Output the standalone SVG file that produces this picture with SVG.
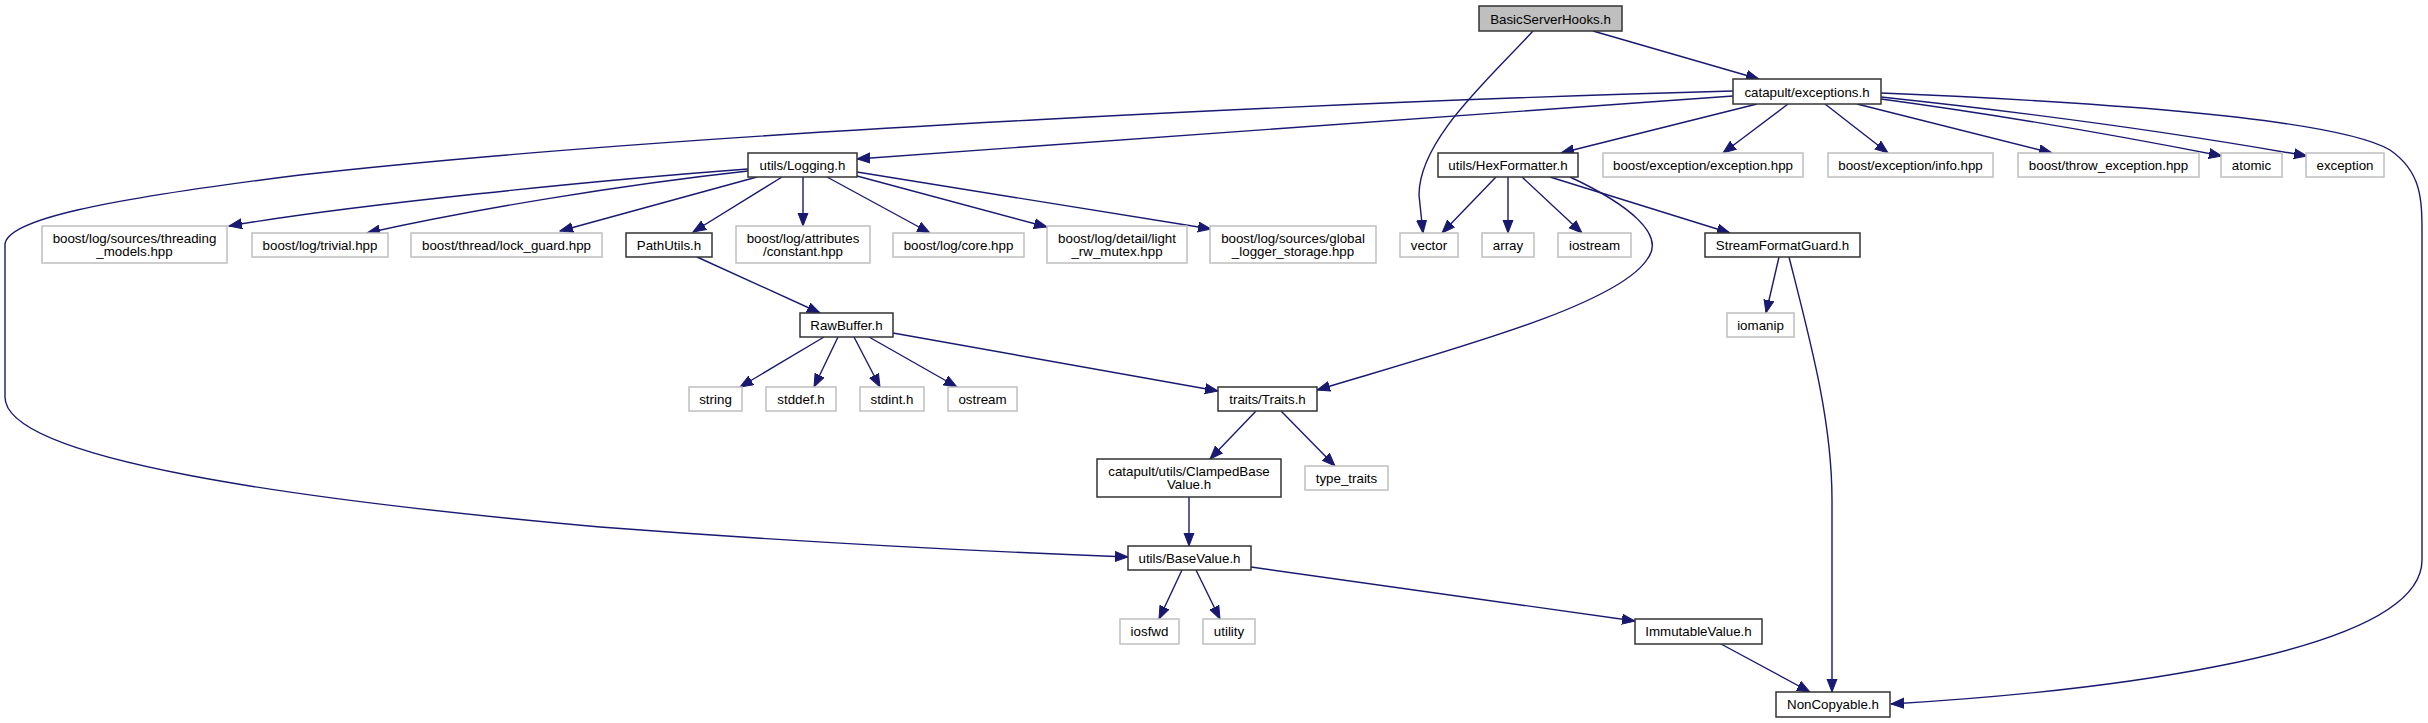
<svg xmlns="http://www.w3.org/2000/svg" width="2428" height="723" viewBox="0 0 2428 723">
<style>
text{font-family:"Liberation Sans",Arial,Helvetica,sans-serif;font-size:13.33px;fill:#000;text-anchor:middle}
.d rect{fill:#fff;stroke:#333;stroke-width:1.5}
.u rect{fill:#fff;stroke:#bfbfbf;stroke-width:1.5}
.root rect{fill:#bfbfbf;stroke:#333;stroke-width:1.5}
#edges path{fill:none;stroke:#191970;stroke-width:1.4;marker-end:url(#ah)}
</style>
<defs>
<marker id="ah" markerUnits="userSpaceOnUse" markerWidth="15" markerHeight="13" refX="13" refY="5.5" orient="auto">
<path d="M0,0.5 L13,5.5 L0,10.5 Z" fill="#191970" stroke="#191970" stroke-width="1"/>
</marker>
</defs>
<rect width="2428" height="723" fill="#fff"/>
<g id="edges">
<path d="M1533,31 C1488,80 1419,140 1419,195 L1423,233"/>
<path d="M1593,31 L1759,79"/>
<path d="M1733,96 L857,159"/>
<path d="M1733,91 C1400,100 700,130 300,175 C100,200 5,220 5,245 L5,397 C5,460 300,500 600,527 C850,546 1050,554 1128,557"/>
<path d="M1757,104 L1561,153"/>
<path d="M1788,104 L1723,153"/>
<path d="M1825,104 L1888,153"/>
<path d="M1857,104 L2052,153"/>
<path d="M1881,99 C2000,115 2130,138 2222,156"/>
<path d="M1881,97 C2050,115 2200,137 2307,156"/>
<path d="M1881,93 C2050,100 2330,115 2390,150 C2422,172 2422,200 2422,235 L2422,560 C2422,660 2060,694 1891,704"/>
<path d="M748,169 C600,180 350,205 229,226"/>
<path d="M748,171 C620,185 470,210 367,233"/>
<path d="M757,177 L560,231"/>
<path d="M782,177 L693,232"/>
<path d="M803,177 L803,226"/>
<path d="M827,177 L930,233"/>
<path d="M857,176 L1047,227"/>
<path d="M857,172 L1211,229"/>
<path d="M697,257 L820,313"/>
<path d="M824,337 L740,387"/>
<path d="M838,337 L814,387"/>
<path d="M854,337 L880,387"/>
<path d="M869,337 L957,387"/>
<path d="M893,333 L1218,391"/>
<path d="M1496,177 L1442,233"/>
<path d="M1508,177 L1508,233"/>
<path d="M1522,177 L1582,233"/>
<path d="M1550,177 L1730,233"/>
<path d="M1570,177 C1630,205 1665,235 1648,258 C1620,305 1450,350 1317,390"/>
<path d="M1779,257 L1766,313"/>
<path d="M1789,257 C1810,340 1832,420 1832,500 L1832,692"/>
<path d="M1256,411 L1210,459"/>
<path d="M1281,411 L1335,466"/>
<path d="M1189,497 L1189,546"/>
<path d="M1182,570 L1159,619"/>
<path d="M1196,570 L1220,619"/>
<path d="M1251,567 L1635,621"/>
<path d="M1721,644 L1810,692"/>
</g>
<g id="n_basicserverhooks" class="root"><rect x="1479" y="6" width="143" height="25"/><text x="1550.5" y="23.5">BasicServerHooks.h</text></g>
<g id="n_exceptions" class="d"><rect x="1733" y="79" width="148" height="25"/><text x="1807" y="96.5">catapult/exceptions.h</text></g>
<g id="n_logging" class="d"><rect x="748" y="153" width="109" height="24"/><text x="802.5" y="169.7">utils/Logging.h</text></g>
<g id="n_hexformatter" class="d"><rect x="1438" y="153" width="140" height="24"/><text x="1508" y="169.7">utils/HexFormatter.h</text></g>
<g id="n_boost_exception" class="u"><rect x="1603" y="153" width="200" height="24"/><text x="1703" y="169.7">boost/exception/exception.hpp</text></g>
<g id="n_boost_info" class="u"><rect x="1828" y="153" width="165" height="24"/><text x="1910.5" y="169.7">boost/exception/info.hpp</text></g>
<g id="n_boost_throw" class="u"><rect x="2018" y="153" width="181" height="24"/><text x="2108.5" y="169.7">boost/throw_exception.hpp</text></g>
<g id="n_atomic" class="u"><rect x="2221" y="153" width="61" height="24"/><text x="2251.5" y="169.7">atomic</text></g>
<g id="n_exception" class="u"><rect x="2306" y="153" width="78" height="24"/><text x="2345" y="169.7">exception</text></g>
<g id="n_threading" class="u"><rect x="42" y="226" width="185" height="37"/><text x="134.5" y="243">boost/log/sources/threading</text><text x="134.5" y="256">_models.hpp</text></g>
<g id="n_trivial" class="u"><rect x="252" y="233" width="136" height="24"/><text x="320" y="249.7">boost/log/trivial.hpp</text></g>
<g id="n_lockguard" class="u"><rect x="411" y="233" width="191" height="24"/><text x="506.5" y="249.7">boost/thread/lock_guard.hpp</text></g>
<g id="n_pathutils" class="d"><rect x="626" y="233" width="86" height="24"/><text x="669" y="249.7">PathUtils.h</text></g>
<g id="n_constant" class="u"><rect x="736" y="226" width="134" height="37"/><text x="803" y="243">boost/log/attributes</text><text x="803" y="256">/constant.hpp</text></g>
<g id="n_core" class="u"><rect x="893" y="233" width="131" height="24"/><text x="958.5" y="249.7">boost/log/core.hpp</text></g>
<g id="n_rwmutex" class="u"><rect x="1047" y="226" width="140" height="37"/><text x="1117" y="243">boost/log/detail/light</text><text x="1117" y="256">_rw_mutex.hpp</text></g>
<g id="n_globallogger" class="u"><rect x="1210" y="226" width="166" height="37"/><text x="1293" y="243">boost/log/sources/global</text><text x="1293" y="256">_logger_storage.hpp</text></g>
<g id="n_vector" class="u"><rect x="1400" y="233" width="58" height="24"/><text x="1429" y="249.7">vector</text></g>
<g id="n_array" class="u"><rect x="1482" y="233" width="52" height="24"/><text x="1508" y="249.7">array</text></g>
<g id="n_iostream" class="u"><rect x="1558" y="233" width="73" height="24"/><text x="1594.5" y="249.7">iostream</text></g>
<g id="n_streamformatguard" class="d"><rect x="1705" y="233" width="155" height="24"/><text x="1782.5" y="249.7">StreamFormatGuard.h</text></g>
<g id="n_rawbuffer" class="d"><rect x="800" y="313" width="93" height="24"/><text x="846.5" y="329.7">RawBuffer.h</text></g>
<g id="n_iomanip" class="u"><rect x="1727" y="313" width="67" height="24"/><text x="1760.5" y="329.7">iomanip</text></g>
<g id="n_string" class="u"><rect x="689" y="387" width="53" height="24"/><text x="715.5" y="403.7">string</text></g>
<g id="n_stddef" class="u"><rect x="766" y="387" width="70" height="24"/><text x="801" y="403.7">stddef.h</text></g>
<g id="n_stdint" class="u"><rect x="860" y="387" width="64" height="24"/><text x="892" y="403.7">stdint.h</text></g>
<g id="n_ostream" class="u"><rect x="948" y="387" width="69" height="24"/><text x="982.5" y="403.7">ostream</text></g>
<g id="n_traits" class="d"><rect x="1218" y="387" width="99" height="24"/><text x="1267.5" y="403.7">traits/Traits.h</text></g>
<g id="n_clampedbasevalue" class="d"><rect x="1097" y="459" width="184" height="38"/><text x="1189" y="476">catapult/utils/ClampedBase</text><text x="1189" y="489">Value.h</text></g>
<g id="n_typetraits" class="u"><rect x="1305" y="466" width="83" height="24"/><text x="1346.5" y="482.7">type_traits</text></g>
<g id="n_basevalue" class="d"><rect x="1128" y="546" width="123" height="24"/><text x="1189.5" y="562.7">utils/BaseValue.h</text></g>
<g id="n_iosfwd" class="u"><rect x="1120" y="619" width="59" height="25"/><text x="1149.5" y="636.2">iosfwd</text></g>
<g id="n_utility" class="u"><rect x="1203" y="619" width="52" height="25"/><text x="1229" y="636.2">utility</text></g>
<g id="n_immutablevalue" class="d"><rect x="1635" y="619" width="127" height="25"/><text x="1698.5" y="636.2">ImmutableValue.h</text></g>
<g id="n_noncopyable" class="d"><rect x="1776" y="692" width="114" height="25"/><text x="1833" y="709.2">NonCopyable.h</text></g>
</svg>
